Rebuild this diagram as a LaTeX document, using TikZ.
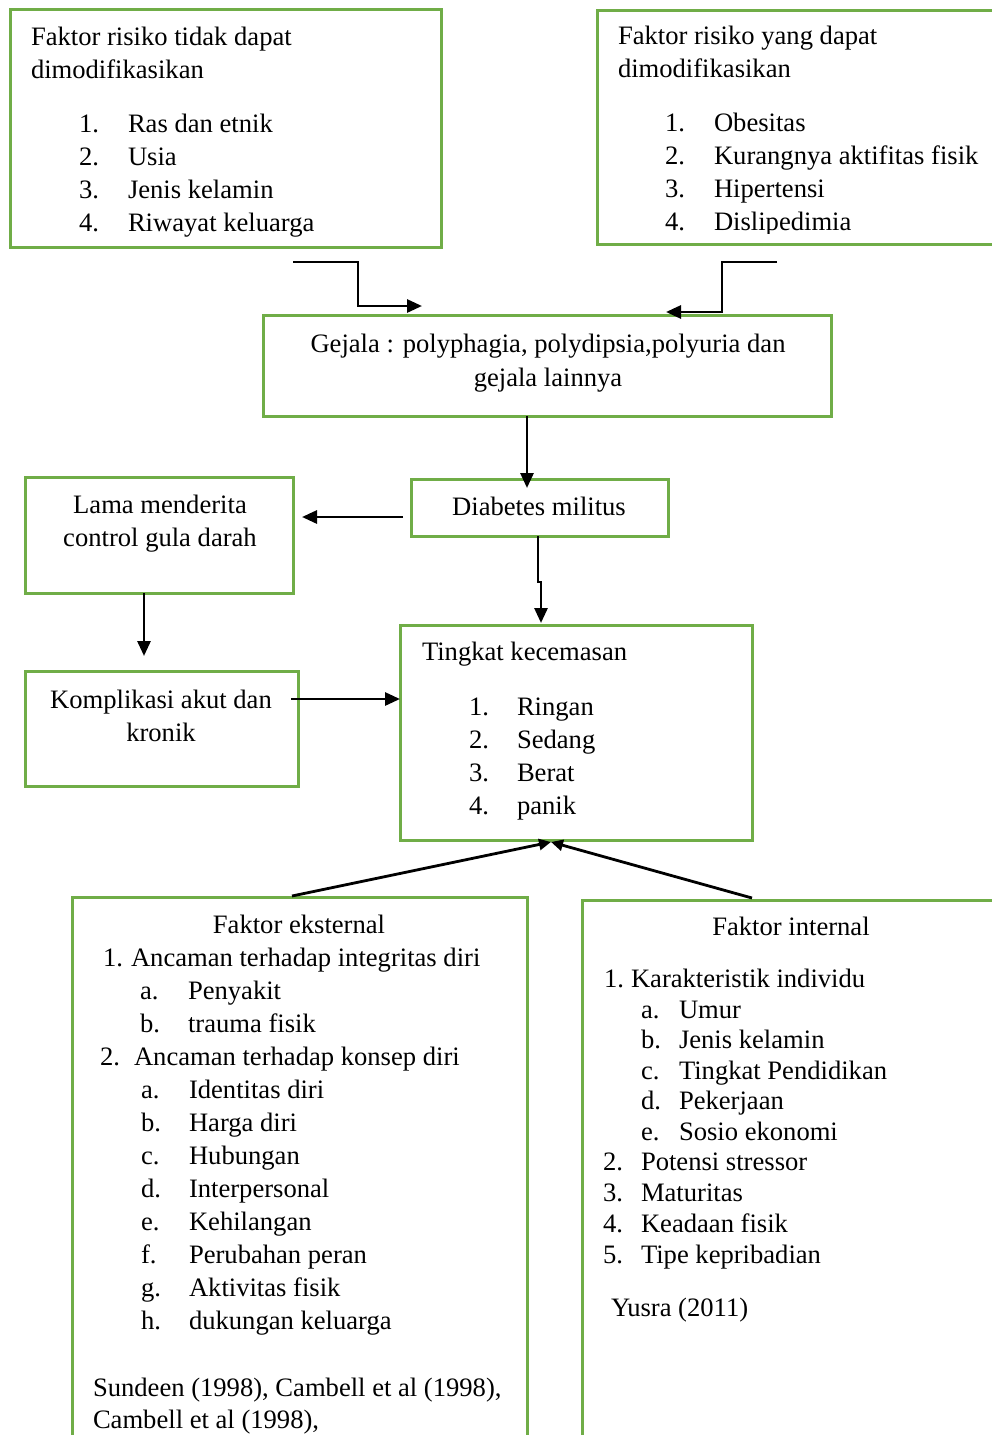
\documentclass[tikz,border=0pt]{standalone}
\usepackage{fontspec}
\setmainfont{Liberation Serif}
\usetikzlibrary{arrows.meta}
\definecolor{boxgreen}{HTML}{70AD47}
\begin{document}
\begin{tikzpicture}[x=1pt,y=-1pt,
  box/.style={draw=boxgreen,line width=3pt,anchor=north west,inner sep=0pt,outer sep=0pt},
  txt/.style={anchor=base west,inner sep=0pt,outer sep=0pt,font=\fontsize{26.6pt}{33pt}\selectfont},
  ctxt/.style={anchor=base,inner sep=0pt,outer sep=0pt,font=\fontsize{26.6pt}{33pt}\selectfont},
  arr/.style={line width=2.8pt,-{Triangle[length=15pt,width=13pt]}},
  arrs/.style={line width=2.8pt,-{Triangle[length=12pt,width=11pt]}}]
\useasboundingbox (0,0) rectangle (992,1435);
\fill[white] (0,0) rectangle (992,1435);

% boxes
\node[box,minimum width=431pt,minimum height=238pt] (b1) at (10,9) {};
\node[box,minimum width=420pt,minimum height=234pt] (b2) at (597,10) {};
\node[box,minimum width=568pt,minimum height=101pt] (gej) at (263,315) {};
\node[box,minimum width=257pt,minimum height=57pt] (dm) at (411,479) {};
\node[box,minimum width=268pt,minimum height=116pt] (lama) at (25,477) {};
\node[box,minimum width=273pt,minimum height=115pt] (kom) at (25,671) {};
\node[box,minimum width=352pt,minimum height=215pt] (tk) at (400,625) {};
\node[box,minimum width=455pt,minimum height=560pt] (eks) at (72,897) {};
\node[box,minimum width=430pt,minimum height=560pt] (int) at (582,900) {};

% box 1 text
\node[txt] (b1t1) at (31,45) {Faktor risiko tidak dapat};
\node[txt] (b1t2) at (31,78) {dimodifikasikan};
\foreach \n/\t [count=\i] in {1./Ras dan etnik,2./Usia,3./Jenis kelamin,4./Riwayat keluarga}{
  \node[txt] (b1n\i) at (79,{132+33*(\i-1)}) {\n};
  \node[txt] (b1i\i) at (128,{132+33*(\i-1)}) {\t};
}

% box 2 text
\begin{scope}
\clip (597,0) rectangle (992,233);
\node[txt] (b2t1) at (618,44) {Faktor risiko yang dapat};
\node[txt] (b2t2) at (618,77) {dimodifikasikan};
\foreach \n/\t [count=\i] in {1./Obesitas,2./Kurangnya aktifitas fisik,3./Hipertensi,4./Dislipedimia}{
  \node[txt] (b2n\i) at (665,{131+33.3*(\i-1)}) {\n};
  \node[txt] (b2i\i) at (714,{131+33.3*(\i-1)}) {\t};
}
\end{scope}

% gejala
\node[ctxt] (gt1) at (548,352) {Gejala : polyphagia, polydipsia,polyuria dan};
\node[ctxt] (gt2) at (548,386) {gejala lainnya};
% diabetes
\node[ctxt] (dmt) at (539,515) {Diabetes militus};
% lama
\node[ctxt] (lt1) at (160,513) {Lama menderita};
\node[ctxt] (lt2) at (160,546) {control gula darah};
% komplikasi
\node[ctxt] (kt1) at (161,708) {Komplikasi akut dan};
\node[ctxt] (kt2) at (161,741) {kronik};
% tingkat
\node[txt] (tkt) at (422,660) {Tingkat kecemasan};
\foreach \n/\t [count=\i] in {1./Ringan,2./Sedang,3./Berat,4./panik}{
  \node[txt] (tkn\i) at (469,{715+33*(\i-1)}) {\n};
  \node[txt] (tki\i) at (517,{715+33*(\i-1)}) {\t};
}

% eksternal
\node[ctxt] (et) at (299,933) {Faktor eksternal};
\node[txt] (en1) at (103,966) {1.};
\node[txt] (ei1) at (131,966) {Ancaman terhadap integritas diri};
\node[txt] (ena) at (140,999) {a.};
\node[txt] (eia) at (188,999) {Penyakit};
\node[txt] (enb) at (140,1032) {b.};
\node[txt] (eib) at (188,1032) {trauma fisik};
\node[txt] (en2) at (100,1065) {2.};
\node[txt] (ei2) at (134,1065) {Ancaman terhadap konsep diri};
\foreach \n/\t [count=\i] in {a./Identitas diri,b./Harga diri,c./Hubungan,d./Interpersonal,e./Kehilangan,f./Perubahan peran,g./Aktivitas fisik,h./dukungan keluarga}{
  \node[txt] (esn\i) at (141,{1098+33*(\i-1)}) {\n};
  \node[txt] (esi\i) at (189,{1098+33*(\i-1)}) {\t};
}
\node[txt] (eref1) at (93,1396) {Sundeen (1998), Cambell et al (1998),};
\node[txt] (eref2) at (93,1428) {Cambell et al (1998),};

% internal
\node[ctxt] (it) at (791,935) {Faktor internal};
\node[txt] (in1) at (604,987) {1.};
\node[txt] (ii1) at (631,987) {Karakteristik individu};
\foreach \n/\t [count=\i] in {a./Umur,b./Jenis kelamin,c./Tingkat Pendidikan,d./Pekerjaan,e./Sosio ekonomi}{
  \node[txt] (isn\i) at (641,{1018+30.5*(\i-1)}) {\n};
  \node[txt] (isi\i) at (679,{1018+30.5*(\i-1)}) {\t};
}
\foreach \n/\t [count=\i] in {2./Potensi stressor,3./Maturitas,4./Keadaan fisik,5./Tipe kepribadian}{
  \node[txt] (imn\i) at (603,{1170+31*(\i-1)}) {\n};
  \node[txt] (imi\i) at (641,{1170+31*(\i-1)}) {\t};
}
\node[txt] (iref) at (611,1316) {Yusra (2011)};

% connectors
\coordinate (a1) at (293,262);
\coordinate (a2) at (422,306);
\coordinate (a3) at (777,262);
\coordinate (a4) at (666,312);
\draw[arr] (a1) -- ++(65,0) |- (a2);
\draw[arr] (a3) -- ++(-55,0) |- (a4);
\draw[arr] ([xshift=-20pt]gej.south) -- ([xshift=-12.5pt,yshift=-9pt]dm.north);
\draw[arr] ([xshift=-1.5pt]dm.south) -- ++(0,46) -- ++(3,0) -- ([xshift=-35pt,yshift=2pt]tk.north);
\coordinate (d1) at (403,517);
\coordinate (d2) at (302,517);
\draw[arr] (d1) -- (d2);
\draw[arr] ([xshift=-15pt]lama.south) -- ([xshift=-15pt,yshift=-63pt]lama.south);
\coordinate (k1) at (291,699);
\draw[arr] (k1) -- (k1 -| tk.west);
\coordinate (tip) at (551,842);
\draw[arrs] ([xshift=-7.5pt,yshift=1pt]eks.north) -- (tip);
\draw[arrs] ([xshift=-45pt,yshift=2pt]int.north) -- (tip);
\end{tikzpicture}
\end{document}
